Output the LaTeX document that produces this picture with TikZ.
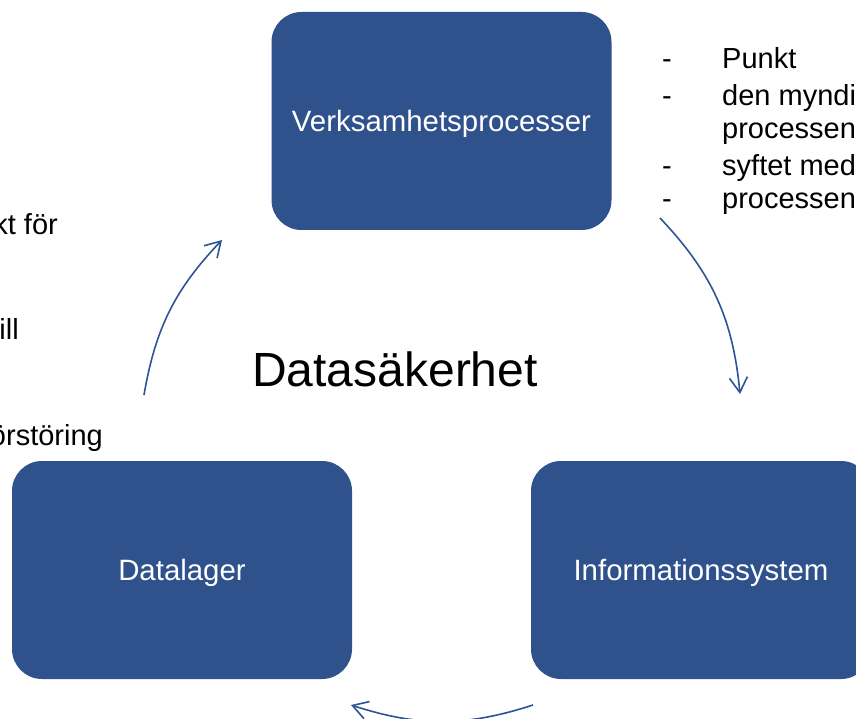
\documentclass[tikz,border=0pt]{standalone}
\usepackage{fontspec}
\setmainfont{Liberation Sans}
\usetikzlibrary{arrows.meta}
\definecolor{boxblue}{RGB}{47,81,140}
\definecolor{arrowblue}{RGB}{47,84,150}
\begin{document}
\begin{tikzpicture}[x=1pt,y=1pt,
  bigbox/.style={fill=boxblue, draw=none, rounded corners=30pt, minimum width=340pt, minimum height=218pt, text=white, font=\fontsize{29.4}{35}\selectfont, inner sep=0pt, text depth=0pt},
  cyclearrow/.style={draw=arrowblue, line width=1.6pt, -{Straight Barb[length=15pt,width=18pt,line width=1.6pt]}},
  listtext/.style={anchor=base west, font=\fontsize{29}{35}\selectfont, inner sep=0pt},
  cuttext/.style={anchor=base east, font=\fontsize{29}{35}\selectfont, inner sep=0pt}]
\useasboundingbox (0,0) rectangle (856,-719);
\fill[white] (0,0) rectangle (856,-719);

\node[bigbox] (vp) at (441.5,-121) {Verksamhetsprocesser};
\node[bigbox] (dl) at (182,-570) {Datalager};
\node[bigbox] (is) at (701,-570) {Informationssystem};

\node[anchor=base, font=\fontsize{48}{56}\selectfont, inner sep=0pt] (ds) at (395,-386) {Datasäkerhet};

% right list
\node[listtext] (d1) at (662,-69) {-};
\node[listtext] (t1) at (722,-69) {Punkt};
\node[listtext] (d2) at (662,-106) {-};
\node[listtext] (t2) at (722,-106) {den myndi};
\node[listtext] (t3) at (722,-139) {processen};
\node[listtext] (d4) at (662,-176) {-};
\node[listtext] (t4) at (722,-176) {syftet med};
\node[listtext] (d5) at (662,-209) {-};
\node[listtext] (t5) at (722,-209) {processen};

% left cut text
\node[cuttext] (l1) at (58,-235) {kt för};
\node[cuttext] (l2) at (19,-339) {ill};
\node[cuttext] (l3) at (103,-445) {örstöring};

% arrows
\coordinate (a1s) at (660,-218);
\coordinate (a1e) at (740,-394);
\coordinate (a2s) at (533,-705);
\coordinate (a2e) at (351,-705);
\coordinate (a3s) at (144,-395);
\coordinate (a3e) at (222,-240);
\draw[cyclearrow] (a1s) to[bend left=19] (a1e);
\draw[cyclearrow] (a2s) to[bend left=18] (a2e);
\draw[cyclearrow] (a3s) to[bend left=17] (a3e);
\end{tikzpicture}
\end{document}
